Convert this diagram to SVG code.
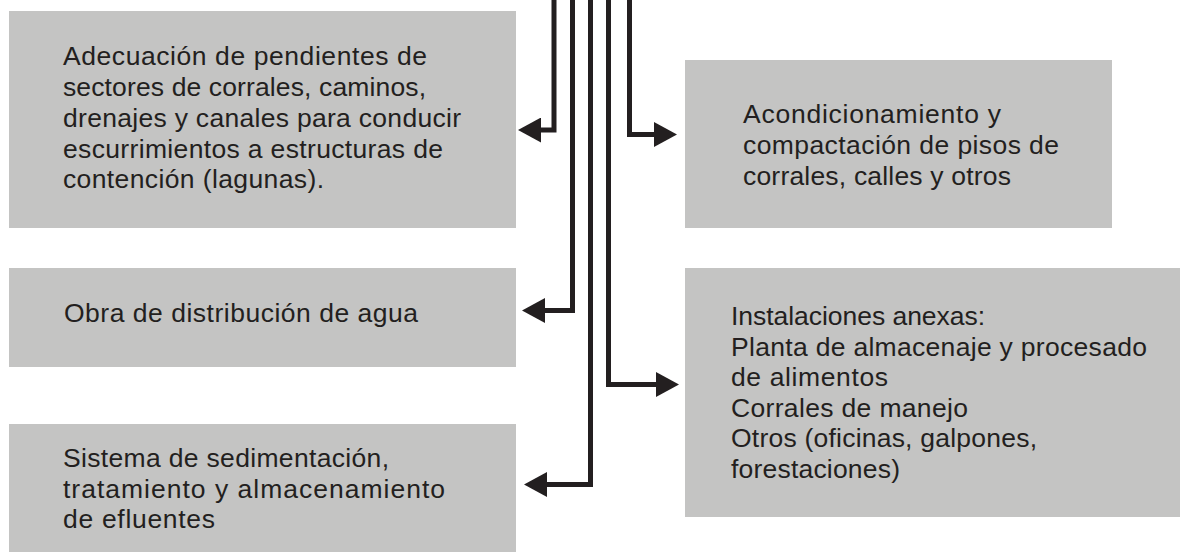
<svg xmlns="http://www.w3.org/2000/svg" width="1180" height="552" viewBox="0 0 1180 552">
  <style>
    .box { fill: #c4c4c3; }
    .t { font-family: "Liberation Sans", Arial, sans-serif; font-size: 26.5px; fill: #231f20; }
    .c { fill: none; stroke: #231f20; stroke-width: 5; stroke-linejoin: miter; }
  </style>
  <defs>
    <marker id="ah" viewBox="0 -12.5 23 25" refX="2" refY="0" markerUnits="userSpaceOnUse" markerWidth="23" markerHeight="25" orient="auto">
      <path d="M0,-12.5 L23,0 L0,12.5 z" fill="#231f20"/>
    </marker>
  </defs>
  <rect width="1180" height="552" fill="#ffffff"/>

  <g id="n1">
    <rect class="box" x="9" y="11" width="507" height="217"/>
    <text class="t" x="63" y="65" textLength="364">Adecuación de pendientes de</text>
    <text class="t" x="63" y="96" textLength="363">sectores de corrales, caminos,</text>
    <text class="t" x="63" y="127" textLength="398">drenajes y canales para conducir</text>
    <text class="t" x="63" y="158" textLength="380">escurrimientos a estructuras de</text>
    <text class="t" x="63" y="188" textLength="261">contención (lagunas).</text>
  </g>
  <g id="n2">
    <rect class="box" x="9" y="268" width="507" height="99"/>
    <text class="t" x="64" y="322" textLength="354">Obra de distribución de agua</text>
  </g>
  <g id="n3">
    <rect class="box" x="9" y="424" width="507" height="128"/>
    <text class="t" x="63" y="467" textLength="326">Sistema de sedimentación,</text>
    <text class="t" x="63" y="498" textLength="382">tratamiento y almacenamiento</text>
    <text class="t" x="63" y="528" textLength="152">de efluentes</text>
  </g>
  <g id="n4">
    <rect class="box" x="685" y="60" width="427" height="168"/>
    <text class="t" x="743" y="123" textLength="258">Acondicionamiento y</text>
    <text class="t" x="743" y="154" textLength="316">compactación de pisos de</text>
    <text class="t" x="743" y="185" textLength="268">corrales, calles y otros</text>
  </g>
  <g id="n5">
    <rect class="box" x="685" y="268" width="495" height="249"/>
    <text class="t" x="731" y="325" textLength="254">Instalaciones anexas:</text>
    <text class="t" x="731" y="356" textLength="416">Planta de almacenaje y procesado</text>
    <text class="t" x="731" y="386" textLength="157">de alimentos</text>
    <text class="t" x="731" y="417" textLength="237">Corrales de manejo</text>
    <text class="t" x="731" y="447" textLength="306">Otros (oficinas, galpones,</text>
    <text class="t" x="731" y="478" textLength="169">forestaciones)</text>
  </g>

  <g id="connectors">
    <path class="c" d="M554,0 V130 H539" marker-end="url(#ah)"/>
    <path class="c" d="M572.5,0 V310.5 H543" marker-end="url(#ah)"/>
    <path class="c" d="M590.5,0 V484.5 H545" marker-end="url(#ah)"/>
    <path class="c" d="M608.5,0 V384.5 H658" marker-end="url(#ah)"/>
    <path class="c" d="M629.5,0 V134.5 H656" marker-end="url(#ah)"/>
  </g>
</svg>
